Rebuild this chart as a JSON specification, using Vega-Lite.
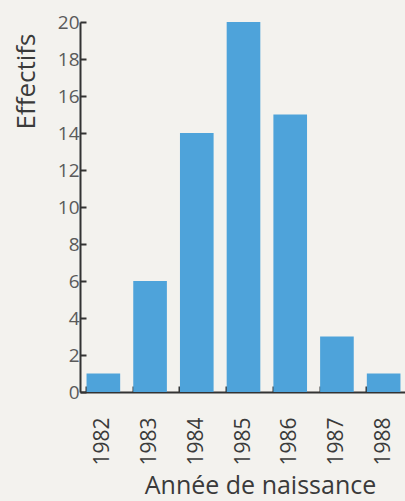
{
  "$schema": "https://vega.github.io/schema/vega-lite/v6.json",
  "autosize": "none",
  "padding": {"left": 80, "top": 22, "right": 0, "bottom": 109},
  "width": 327,
  "height": 370,
  "background": "#f3f2ee",
  "data": {"values": [
    {"annee": "1982", "effectifs": 1},
    {"annee": "1983", "effectifs": 6},
    {"annee": "1984", "effectifs": 14},
    {"annee": "1985", "effectifs": 20},
    {"annee": "1986", "effectifs": 15},
    {"annee": "1987", "effectifs": 3},
    {"annee": "1988", "effectifs": 1}
  ]},
  "mark": {"type": "bar", "color": "#4ea3da"},
  "encoding": {
    "x": {
      "field": "annee", "type": "ordinal",
      "scale": {"paddingInner": 0.28, "paddingOuter": 0.14},
      "axis": {
        "title": "Année de naissance",
        "labelAngle": -90,
        "labelAlign": "right",
        "labelBaseline": "middle",
        "labelPadding": 31,
        "labelFontSize": 21,
        "labelColor": "#3a3a3a",
        "bandPosition": 0,
        "tickSize": -6,
        "tickColor": "#333",
        "tickWidth": 2,
        "domainColor": "#333",
        "domainWidth": 2,
        "titleFontSize": 25,
        "titleFontWeight": "normal",
        "titleColor": "#3a3a3a",
        "titleBaseline": "alphabetic",
        "titleY": 101,
        "titleX": 180
      }
    },
    "y": {
      "field": "effectifs", "type": "quantitative",
      "scale": {"domain": [0, 20]},
      "axis": {
        "title": "Effectifs",
        "values": [0, 2, 4, 6, 8, 10, 12, 14, 16, 18, 20],
        "grid": false,
        "tickSize": -6,
        "tickColor": "#333",
        "tickWidth": 2,
        "domainColor": "#333",
        "domainWidth": 2,
        "labelPadding": 7,
        "labelFontSize": 19,
        "labelColor": "#5a5a5a",
        "titleFontSize": 26,
        "titleFontWeight": "normal",
        "titleColor": "#3a3a3a",
        "titleAngle": -90,
        "titleAlign": "right",
        "titleBaseline": "middle",
        "titleX": -54,
        "titleY": 11
      }
    }
  },
  "config": {
    "font": "Open Sans",
    "view": {"stroke": null}
  }
}
